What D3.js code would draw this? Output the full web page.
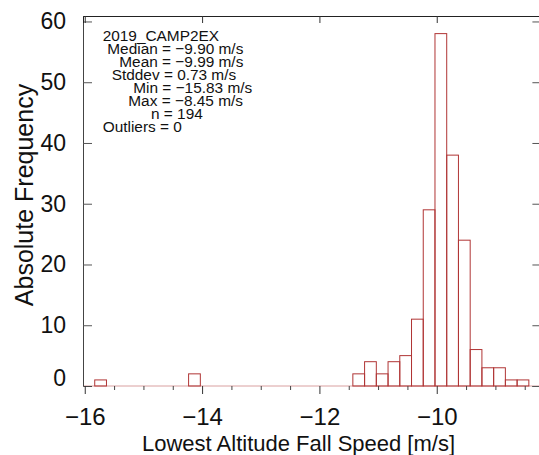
<!DOCTYPE html>
<html><head><meta charset="utf-8">
<script src="https://cdn.jsdelivr.net/npm/d3@7"></script>
<style>body{margin:0;background:#fff}svg{display:block}text{font-family:"Liberation Sans",Arial,Helvetica,sans-serif}</style>
</head><body><svg id="c" width="539" height="455"></svg>
<script>
const binLefts = [-15.83,-15.63,-15.43,-15.23,-15.03,-14.83,-14.63,-14.43,-14.23,-14.03,-13.83,-13.63,-13.43,-13.23,-13.03,-12.83,-12.63,-12.43,-12.23,-12.03,-11.83,-11.63,-11.43,-11.23,-11.03,-10.83,-10.63,-10.43,-10.23,-10.03,-9.83,-9.63,-9.43,-9.23,-9.03,-8.83,-8.63];
const binWidth = 0.2;
const counts = [1,0,0,0,0,0,0,0,2,0,0,0,0,0,0,0,0,0,0,0,0,0,2,4,2,4,5,11,29,58,38,24,6,3,3,1,1];
const xMajorTicks = [-16,-14,-12,-10];
const xMinorTicks = [-15.5,-15,-14.5,-13.5,-13,-12.5,-11.5,-11,-10.5,-9.5,-9,-8.5];
const yTicks = [0,10,20,30,40,50,60];
const statLines = ["2019_CAMP2EX","Median = \u22129.90 m/s","Mean = \u22129.99 m/s","Stddev = 0.73 m/s","Min = \u221215.83 m/s","Max = \u22128.45 m/s","n = 194","Outliers = 0"];
const statIndent = [0,4.6,16.6,9,30.6,25.6,48.3,0];

const L=83, R=539.4, T=16, B=386;
const x = d3.scaleLinear().domain([-16.03,-8.25]).range([L,R]);
const y = d3.scaleLinear().domain([0,60.9]).range([B,T]);
const svg = d3.select("#c");

// baseline
svg.append("line").attr("x1",L).attr("x2",R).attr("y1",B).attr("y2",B)
  .attr("stroke","#d9a0a0").attr("stroke-width",1);

// bars
svg.append("g").selectAll("rect").data(binLefts).join("rect")
  .attr("x",(d)=>x(d)).attr("width",(d)=>x(d+binWidth)-x(d))
  .attr("y",(d,i)=>y(counts[i])).attr("height",(d,i)=>B-y(counts[i]))
  .attr("fill","none").attr("stroke","#b03535").attr("stroke-width",1);

// left axis
const gl = svg.append("g").attr("transform",`translate(${L},0)`)
  .call(d3.axisLeft(y).tickValues(yTicks).tickSize(-9).tickPadding(17).tickFormat(d3.format("d")));
gl.select(".domain").attr("stroke","#444");
gl.selectAll(".tick line").attr("stroke","#555");
gl.selectAll(".tick text").attr("font-size",23).attr("fill","#111")
  .attr("dy",(d)=> d===0 ? "-0.02em" : "0.32em");
gl.selectAll(".tick").filter(d=>d===0).select("line").remove();

// right axis
const gr = svg.append("g").attr("transform",`translate(${R},0)`)
  .call(d3.axisRight(y).tickValues(yTicks).tickSize(-7).tickFormat(""));
gr.select(".domain").attr("stroke","#444");
gr.selectAll(".tick line").attr("stroke","#555");

// top axis
const gt = svg.append("g").attr("transform",`translate(0,${T})`)
  .call(d3.axisTop(x).tickValues(xMajorTicks).tickSize(-7).tickFormat(""));
gt.select(".domain").attr("stroke","#222");
gt.selectAll(".tick line").attr("stroke","#333");

// bottom axis (major + minor)
const gb = svg.append("g").attr("transform",`translate(0,${B})`)
  .call(d3.axisBottom(x).tickValues(xMajorTicks).tickSize(8).tickPadding(14).tickFormat(d3.format("d")));
gb.select(".domain").remove();
gb.selectAll(".tick line").attr("stroke","#333");
gb.selectAll(".tick text").attr("font-size",24).attr("fill","#111");
const gbm = svg.append("g").attr("transform",`translate(0,${B})`)
  .call(d3.axisBottom(x).tickValues(xMinorTicks).tickSize(4).tickFormat(""));
gbm.select(".domain").remove();
gbm.selectAll(".tick line").attr("stroke","#444");

// axis titles
svg.append("text").attr("x",298.5).attr("y",451).attr("text-anchor","middle")
  .attr("font-size",22).attr("fill","#111").text("Lowest Altitude Fall Speed [m/s]");
svg.append("text").attr("transform","translate(33,195) rotate(-90)").attr("text-anchor","middle")
  .attr("font-size",25).attr("fill","#111").text("Absolute Frequency");

// stats text
svg.append("g").selectAll("text").data(statLines).join("text")
  .attr("x",(d,i)=>102.7+statIndent[i]).attr("y",(d,i)=>40.5+13*i)
  .attr("font-size",15.4).attr("fill","#111").text(d=>d);
</script></body></html>
